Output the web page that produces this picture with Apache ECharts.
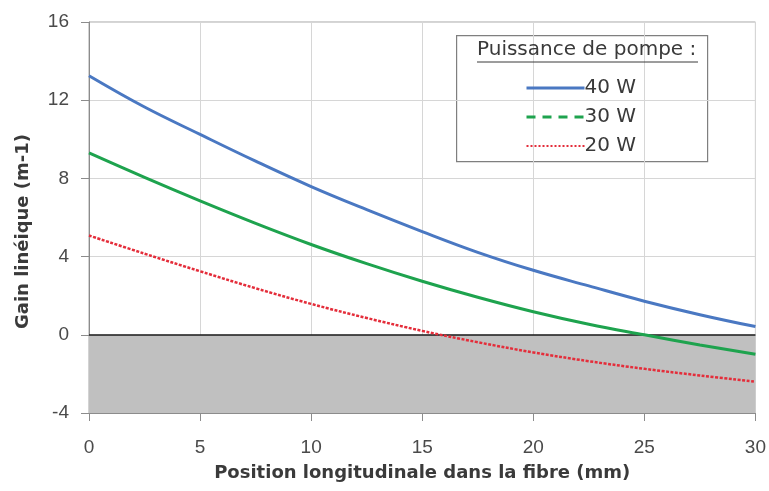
<!DOCTYPE html>
<html>
<head>
<meta charset="utf-8">
<script src="https://cdn.jsdelivr.net/npm/echarts@6/dist/echarts.min.js"></script>
<style>
  html, body { margin: 0; padding: 0; background: #fff; }
  #chart { width: 769px; height: 491px; }
</style>
</head>
<body>
<div id="chart"></div>
<script>
// Longitudinal position along the fibre (mm)
const positions = [0, 2.5, 5, 7.5, 10, 12.5, 15, 17.5, 20, 22.5, 25, 27.5, 30];
// Linear gain (m-1) for each pump power
const gain40W = [13.25, 11.65, 10.25, 8.88, 7.58, 6.4, 5.28, 4.22, 3.3, 2.5, 1.72, 1.03, 0.42];
const gain30W = [9.3, 8.05, 6.85, 5.7, 4.62, 3.64, 2.74, 1.92, 1.18, 0.54, 0.0, -0.52, -1.0];
const gain20W = [5.08, 4.15, 3.25, 2.38, 1.58, 0.86, 0.2, -0.38, -0.9, -1.35, -1.74, -2.08, -2.4];
const seriesNames = ['40 W', '30 W', '20 W'];
const xTicks = [0, 5, 10, 15, 20, 25, 30];
const yTicks = [-4, 0, 4, 8, 12, 16];

const pairs = (ys) => positions.map((x, i) => [x, ys[i]]);
const tickFont = 'Liberation Sans, Arial, sans-serif';
const titleFont = 'DejaVu Sans, Verdana, sans-serif';

const chart = echarts.init(document.getElementById('chart'), null, { renderer: 'canvas' });

chart.setOption({
  animation: false,
  backgroundColor: '#ffffff',
  grid: { left: 89, right: 13, top: 22, bottom: 78, show: true, borderColor: '#a6a6a6', borderWidth: 1 },
  xAxis: {
    type: 'value',
    min: xTicks[0], max: xTicks[xTicks.length - 1], interval: 5,
    name: 'Position longitudinale dans la fibre (mm)',
    nameLocation: 'middle', nameGap: 51,
    nameTextStyle: { fontFamily: titleFont, fontWeight: 'bold', fontSize: 18, color: '#3a3a3a' },
    axisLine: { show: true, onZero: false, lineStyle: { color: '#8c8c8c', width: 1 } },
    axisTick: { show: true, length: 8, lineStyle: { color: '#8c8c8c' } },
    axisLabel: { fontFamily: tickFont, fontSize: 19, color: '#4a4a4a', margin: 25 },
    splitLine: { show: true, lineStyle: { color: '#d6d6d6', width: 1 } }
  },
  yAxis: {
    type: 'value',
    min: yTicks[0], max: yTicks[yTicks.length - 1], interval: 4,
    name: 'Gain linéique (m-1)',
    nameLocation: 'middle', nameGap: 57, nameRotate: 90,
    nameTextStyle: { fontFamily: titleFont, fontWeight: 'bold', fontSize: 18, color: '#3a3a3a', padding: [0, 28, 0, 0] },
    axisLine: { show: true, lineStyle: { color: '#8c8c8c', width: 1 } },
    axisTick: { show: true, length: 8, lineStyle: { color: '#8c8c8c' } },
    axisLabel: { fontFamily: tickFont, fontSize: 19, color: '#4a4a4a', margin: 20 },
    splitLine: { show: true, lineStyle: { color: '#d6d6d6', width: 1 } }
  },
  legend: {
    orient: 'vertical',
    left: 525, top: 78, padding: 0,
    itemWidth: 58, itemHeight: 20, itemGap: 9,
    itemStyle: { opacity: 0 },
    textStyle: { fontFamily: titleFont, fontSize: 20, color: '#3a3a3a', padding: [0, 0, 0, -5] },
    data: [
      { name: seriesNames[0], lineStyle: { width: 3 } },
      { name: seriesNames[1], lineStyle: { type: [9, 7], width: 3 } },
      { name: seriesNames[2], lineStyle: { type: [2, 2], width: 2 } }
    ]
  },
  graphic: [
    { type: 'rect', left: 456, top: 35, shape: { width: 251, height: 126 },
      style: { fill: '#ffffff', stroke: '#7f7f7f', lineWidth: 1.2 }, z: 0 },
    { type: 'text', left: 477, top: 40,
      style: { text: 'Puissance de pompe :', font: '20px DejaVu Sans, Verdana, sans-serif', fill: '#3a3a3a' }, z: 10 },
    { type: 'line', shape: { x1: 477, y1: 62, x2: 698, y2: 62 },
      style: { stroke: '#3a3a3a', lineWidth: 1 }, z: 10 }
  ],
  series: [
    {
      name: seriesNames[0], type: 'line', data: pairs(gain40W), smooth: 0.4,
      symbol: 'none', z: 5,
      lineStyle: { color: '#4a78c2', width: 3 }, itemStyle: { color: '#4a78c2' },
      markArea: {
        silent: true,
        itemStyle: { color: '#c0c0c0' },
        data: [[{ yAxis: 0 }, { yAxis: yTicks[0] }]]
      },
      markLine: {
        silent: true, symbol: 'none', label: { show: false },
        lineStyle: { color: '#1a1a1a', width: 1.5, type: 'solid' },
        data: [{ yAxis: 0 }]
      }
    },
    {
      name: seriesNames[1], type: 'line', data: pairs(gain30W), smooth: 0.4,
      symbol: 'none', z: 5,
      lineStyle: { color: '#1ea34e', width: 3 }, itemStyle: { color: '#1ea34e' }
    },
    {
      name: seriesNames[2], type: 'line', data: pairs(gain20W), smooth: 0.4,
      symbol: 'none', z: 5,
      lineStyle: { color: '#e42d3a', width: 2.5, type: [3, 1.5] }, itemStyle: { color: '#e42d3a' }
    }
  ]
});
</script>
</body>
</html>
